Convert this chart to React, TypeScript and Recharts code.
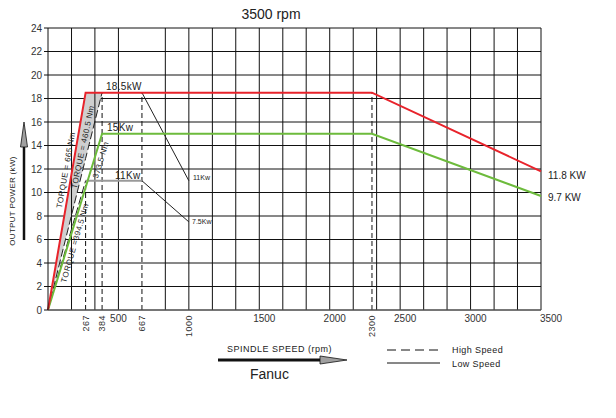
import {
  ComposedChart,
  Line,
  Area,
  XAxis,
  YAxis,
  CartesianGrid,
  ReferenceLine,
} from 'recharts';

// spindle speed (rpm) at which a series has a point
const rpm = [0, 267, 384, 667, 1000, 2300, 3500];
// 18.5 kW curve (red)
const red = [0, 18.5, null, null, null, 18.5, 11.8];
// 15 kW curve (green)
const green = [0, null, 15, null, null, 15, 9.7];
// TORQUE = 460.5 Nm (black dashed, right edge of the grey band)
const torque460 = [0, 12.9, 18.5, null, null, null, null];
// TORQUE = 394.5 Nm (black dashed)
const torque394 = [0, 11, null, null, null, null, null];
// 11 kW plateau (grey)
const kw11 = [null, 11, null, 11, null, null, null];
// leader lines to the small "11Kw" / "7.5Kw" notes
const lead11 = [null, null, null, 18.5, 11, null, null];
const lead75 = [null, null, null, 11, 7.5, null, null];

const xTicks = [267, 384, 500, 667, 1000, 1500, 2000, 2300, 2500, 3000, 3500];
const rotatedTicks = [267, 384, 667, 1000, 2300];
const yTicks = [0, 2, 4, 6, 8, 10, 12, 14, 16, 18, 20, 22, 24];
const gridRpm = [167, 333, 500, 833, 1000, 1167, 1333, 1500, 1667, 1833, 2000, 2167, 2333, 2500, 2667, 2833, 3000, 3167, 3333, 3500];
const dashRpm = [267, 384, 667, 2300];
const dashTop = [11, 18.5, 18.5, 18.5];

const rows = rpm.map((r, i) => ({
  rpm: r,
  red: red[i],
  green: green[i],
  t460: torque460[i],
  t394: torque394[i],
  kw11: kw11[i],
  lead11: lead11[i],
  lead75: lead75[i],
  band: torque460[i] != null && i < 3 ? [torque460[i], red[i] ?? 18.5] : null,
}));

const FONT = '"Liberation Sans", Arial, sans-serif';
const RED = '#e8232b';
const GREEN = '#6dbb3c';

function XTick({ x, y, payload }: any) {
  const v = payload.value;
  if (rotatedTicks.includes(v)) {
    return (
      <text transform={`translate(${x + 3},${y + 3}) rotate(-90)`} textAnchor="end" fontSize={9} fill="#333" fontFamily={FONT} letterSpacing={0.5}>
        {v}
      </text>
    );
  }
  const dx = v === 3500 ? 10 : v === 500 ? 0 : 5;
  return (
    <text x={x + dx} y={y + 10} textAnchor="middle" fontSize={10} fill="#333" fontFamily={FONT}>
      {v}
    </text>
  );
}

export default function App() {
  return (
    <div style={{ position: 'absolute', left: 0, top: 0, width: 616, height: 418, background: '#fff' }}>
      <ComposedChart width={616} height={418} data={rows} margin={{ top: 28, right: 75, bottom: 78, left: 0 }}>
        <CartesianGrid vertical={false} stroke="#111" />
        <XAxis
          dataKey="rpm"
          type="number"
          domain={[0, 3500]}
          ticks={xTicks}
          interval={0}
          tick={<XTick />}
          tickLine={false}
          tickSize={0}
          height={30}
          axisLine={{ stroke: '#666' }}
        />
        <YAxis
          type="number"
          domain={[0, 24]}
          ticks={yTicks}
          width={48}
          tickSize={4}
          tickLine={{ stroke: '#111' }}
          axisLine={{ stroke: '#111' }}
          tick={{ fontSize: 10, fill: '#333', fontFamily: FONT }}
        />
        {gridRpm.map((g) => (
          <ReferenceLine key={g} x={g} stroke="#111" />
        ))}
        {dashRpm.map((d, i) => (
          <ReferenceLine key={'d' + d} segment={[{ x: d, y: 0 }, { x: d, y: dashTop[i] }]} stroke="#111" strokeDasharray="5 3" />
        ))}
        <Area dataKey="band" connectNulls stroke="none" fill="#cfcfcf" fillOpacity={1} isAnimationActive={false} />
        <Line dataKey="t460" connectNulls stroke="#222" strokeWidth={1} strokeDasharray="8 3" dot={false} isAnimationActive={false} />
        <Line dataKey="t394" connectNulls stroke="#222" strokeWidth={1} strokeDasharray="8 3" dot={false} isAnimationActive={false} />
        <Line dataKey="kw11" connectNulls stroke="#9a9a9a" strokeWidth={2} dot={false} isAnimationActive={false} />
        <Line dataKey="lead11" connectNulls stroke="#222" strokeWidth={1} dot={false} isAnimationActive={false} />
        <Line dataKey="lead75" connectNulls stroke="#222" strokeWidth={1} dot={false} isAnimationActive={false} />
        <Line dataKey="green" connectNulls stroke={GREEN} strokeWidth={2} dot={false} isAnimationActive={false} />
        <Line dataKey="red" connectNulls stroke={RED} strokeWidth={2} dot={false} isAnimationActive={false} />
      </ComposedChart>

      <svg width={616} height={418} style={{ position: 'absolute', left: 0, top: 0, pointerEvents: 'none' }} fontFamily={FONT}>
        <text x={271} y={19} textAnchor="middle" fontSize={14} fill="#222" fontWeight={500}>3500 rpm</text>

        {/* y axis title with arrow */}
        <text transform="translate(15,201) rotate(-90)" textAnchor="middle" fontSize={8} fill="#222" letterSpacing={0.3}>OUTPUT  POWER  (kW)</text>
        <line x1={24} y1={240} x2={24} y2={146} stroke="#111" strokeWidth={2.5} />
        <polygon points="24,122 20.5,147 27.5,147" fill="#a0a0a0" stroke="#111" strokeWidth={0.8} />

        {/* torque notes */}
        <text transform="translate(66,170) rotate(-80)" textAnchor="middle" dominantBaseline="central" fontSize={8} fill="#222" letterSpacing={0.4}>TORQUE = 665  Nm</text>
        <text transform="translate(83,147) rotate(-78)" textAnchor="middle" dominantBaseline="central" fontSize={8} fill="#222" letterSpacing={0.4}>TORQUE = 460.5  Nm</text>
        <text transform="translate(101,160) rotate(-73)" textAnchor="middle" dominantBaseline="central" fontSize={8} fill="#222" letterSpacing={0.4}>373.5  Nm</text>
        <text transform="translate(75,243) rotate(-74)" textAnchor="middle" dominantBaseline="central" fontSize={8} fill="#222" letterSpacing={0.4}>TORQUE =394.5  Nm</text>

        {/* power notes */}
        <text x={106} y={90} fontSize={10} fill="#222" letterSpacing={0.3}>18.5kW</text>
        <text x={107} y={131} fontSize={10} fill="#222" letterSpacing={0.3}>15Kw</text>
        <text x={115} y={179} fontSize={10} fill="#222" letterSpacing={0.3}>11Kw</text>
        <text x={193} y={180} fontSize={7} fill="#222">11Kw</text>
        <text x={192} y={224} fontSize={7} fill="#222">7.5Kw</text>
        <text x={548} y={179} fontSize={10} fill="#222">11.8  KW</text>
        <text x={548} y={201} fontSize={10} fill="#222">9.7  KW</text>

        {/* x axis title with arrow */}
        <text x={227} y={352} fontSize={9} fill="#222" letterSpacing={0.5}>SPINDLE  SPEED  (rpm)</text>
        <line x1={218} y1={360} x2={322} y2={360} stroke="#111" strokeWidth={3} />
        <polygon points="320,356 347,360 320,364" fill="#a0a0a0" stroke="#111" strokeWidth={0.8} />
        <text x={250} y={379} fontSize={14} fill="#222">Fanuc</text>

        {/* legend */}
        <line x1={387} y1={350} x2={440} y2={350} stroke="#111" strokeDasharray="9 5" />
        <text x={452} y={353} fontSize={9} fill="#222" letterSpacing={0.4}>High  Speed</text>
        <line x1={387} y1={363} x2={440} y2={363} stroke="#111" />
        <text x={452} y={367} fontSize={9} fill="#222" letterSpacing={0.4}>Low  Speed</text>
      </svg>
    </div>
  );
}
